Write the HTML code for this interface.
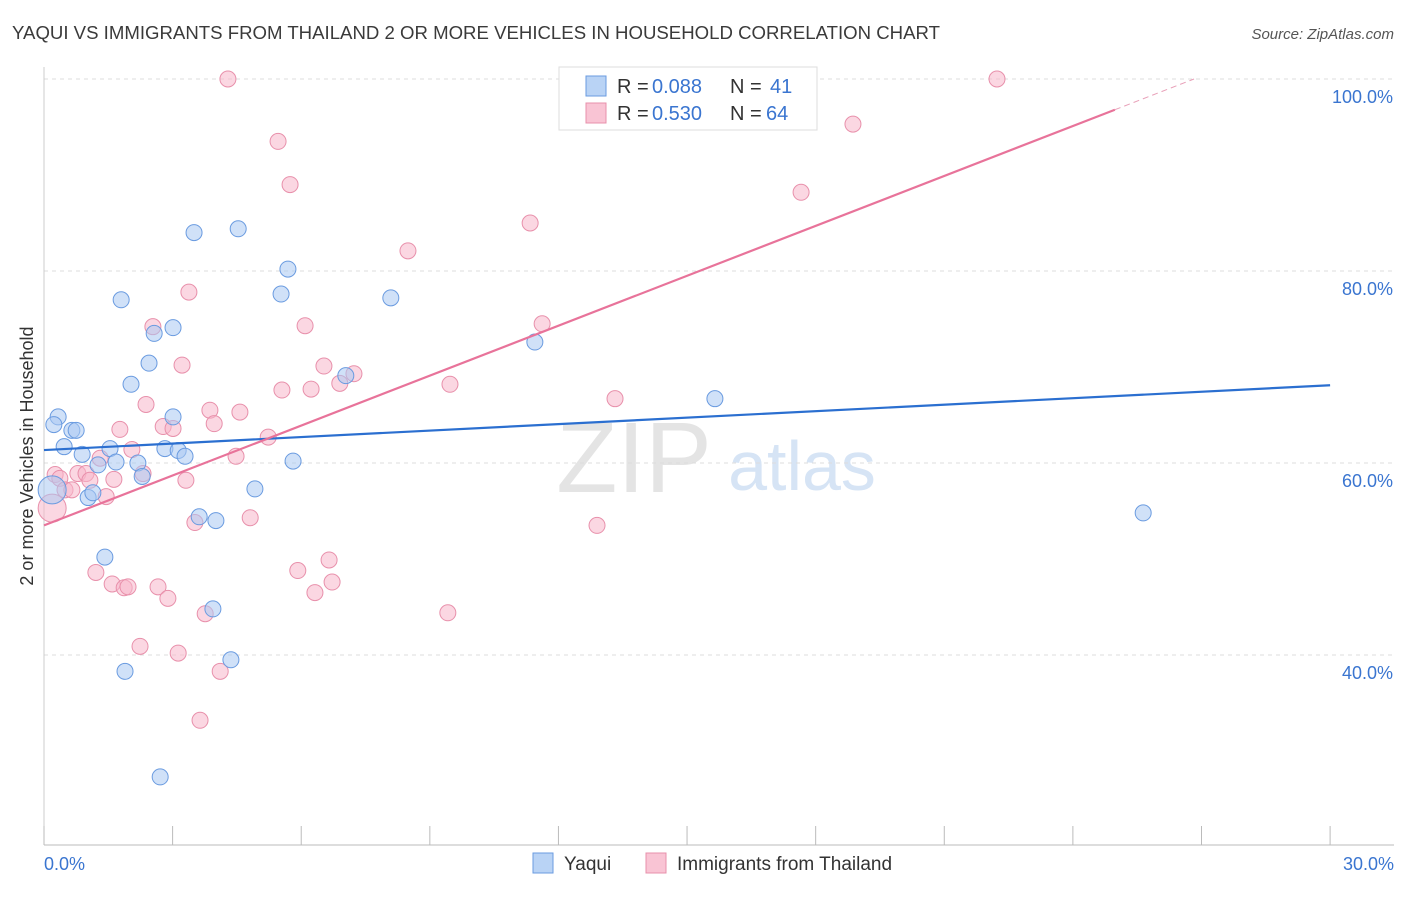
<!DOCTYPE html>
<html><head><meta charset="utf-8"><style>
body{margin:0;background:#fff;font-family:"Liberation Sans",sans-serif}
svg text{font-family:"Liberation Sans",sans-serif}
</style></head><body>
<svg id="chart" width="1406" height="892" xmlns="http://www.w3.org/2000/svg">
<text x="12" y="39" font-size="18" fill="#3a3a3a" textLength="928" lengthAdjust="spacingAndGlyphs">YAQUI VS IMMIGRANTS FROM THAILAND 2 OR MORE VEHICLES IN HOUSEHOLD CORRELATION CHART</text>
<text x="1394" y="39" font-size="15" fill="#555" font-style="italic" text-anchor="end">Source: ZipAtlas.com</text>
<g>
<text x="634" y="492" font-size="100" fill="#e4e4e4" text-anchor="middle" font-family="Liberation Serif">ZIP</text>
<text x="802" y="490" font-size="70" fill="#d6e4f5" text-anchor="middle">atlas</text>
</g>
<g id="grid"></g><g id="axes"></g><g id="marks"></g>
<text transform="translate(33,456) rotate(-90)" font-size="18" fill="#333" text-anchor="middle">2 or more Vehicles in Household</text>
<g>
<rect x="559" y="67" width="258" height="63" fill="#fff" stroke="#ddd"/>
<rect x="586" y="76" width="20" height="20" fill="#b9d3f5" stroke="#6a9be0"/>
<rect x="586" y="103" width="20" height="20" fill="#f9c4d4" stroke="#e890ab"/>
<text x="617" y="93" font-size="20" fill="#333">R =</text>
<text x="652" y="93" font-size="20" fill="#3a75d0">0.088</text>
<text x="730" y="93" font-size="20" fill="#333">N =</text>
<text x="770" y="93" font-size="20" fill="#3a75d0">41</text>
<text x="617" y="120" font-size="20" fill="#333">R =</text>
<text x="652" y="120" font-size="20" fill="#3a75d0">0.530</text>
<text x="730" y="120" font-size="20" fill="#333">N =</text>
<text x="766" y="120" font-size="20" fill="#3a75d0">64</text>
</g>
<g>
<rect x="533" y="853" width="20" height="20" fill="#b9d3f5" stroke="#6a9be0"/>
<text x="564" y="870" font-size="19" fill="#333">Yaqui</text>
<rect x="646" y="853" width="20" height="20" fill="#f9c4d4" stroke="#e890ab"/>
<text x="677" y="870" font-size="19" fill="#333">Immigrants from Thailand</text>
</g>
</svg>
<script>
const yTicks=[40,60,80,100];
const yTickLabels=["40.0%","60.0%","80.0%","100.0%"];
const blueX=[.19,.33,.23,.47,.65,.75,.89,1.03,1.14,1.26,1.42,1.54,1.68,1.80,1.89,2.03,2.19,2.29,2.45,2.57,2.71,2.82,3.01,3.01,3.13,3.29,3.50,3.62,3.94,4.01,4.36,4.53,4.92,5.53,5.69,5.81,7.04,8.09,11.45,15.65,25.64];
const blueY=[57.2,64.8,64.0,61.7,63.4,63.4,60.9,56.4,56.9,59.8,50.2,61.5,60.1,77.0,38.3,68.2,60.0,58.6,70.4,73.5,27.3,61.5,64.8,74.1,61.3,60.7,84.0,54.4,44.8,54.0,39.5,84.4,57.3,77.6,80.2,60.2,69.1,77.2,72.6,66.7,54.8];
const pinkX=[.19,.26,.37,.49,.65,.79,.98,1.07,1.21,1.31,1.45,1.59,1.63,1.77,1.87,1.96,2.05,2.24,2.31,2.38,2.54,2.66,2.78,2.89,3.01,3.13,3.22,3.31,3.38,3.52,3.64,3.76,3.87,3.97,4.11,4.29,4.48,4.57,4.81,5.23,5.46,5.55,5.74,5.92,6.09,6.23,6.32,6.53,6.65,6.72,6.90,7.23,8.49,9.42,9.47,11.34,11.62,12.90,13.32,17.66,18.87,22.23];
const pinkY=[55.3,58.8,58.4,57.2,57.2,58.9,58.9,58.2,48.6,60.5,56.5,47.4,58.3,63.5,47.0,47.1,61.4,40.9,58.9,66.1,74.2,47.1,63.8,45.9,63.6,40.2,70.2,58.2,77.8,53.8,33.2,44.3,65.5,64.1,38.3,100,60.7,65.3,54.3,62.7,93.5,67.6,89.0,48.8,74.3,67.7,46.5,70.1,49.9,47.6,68.3,69.3,82.1,44.4,68.2,85.0,74.5,53.5,66.7,88.2,95.3,100];
const blueTrend=[61.35,68.1];
const pinkTrend=[53.5,96.8];
const pinkTrendEnd=24.98;
const NS="http://www.w3.org/2000/svg";
const sx=v=>44+v*42.87, sy=v=>79+(100-v)*9.6;
function mk(t,a,p){const e=document.createElementNS(NS,t);for(const k in a)e.setAttribute(k,a[k]);p.appendChild(e);return e;}
const grid=document.getElementById('grid'),axes=document.getElementById('axes'),marks=document.getElementById('marks');
yTicks.forEach((v,i)=>{
 const l=mk('line',{x1:44,x2:1394,y1:sy(v),y2:sy(v),stroke:'#ddd','stroke-dasharray':'4,4'},grid);
 
 
 const t=mk('text',{x:1393,y:sy(v)+24,'font-size':18,fill:'#3a75d0','text-anchor':'end'},axes);
 t.textContent=yTickLabels[i];
 
 
});
const ax=mk('line',{x1:44,x2:1394,y1:845,y2:845,stroke:'#bbb'},axes);


const ay=mk('line',{x1:44,x2:44,y1:67,y2:845,stroke:'#ccc'},axes);


for(let i=0;i<=10;i++){const t=mk('line',{x1:sx(i*3),x2:sx(i*3),y1:826,y2:845,stroke:'#bbb'},axes);
 
 }
const x0=mk('text',{x:44,y:870,'font-size':18,fill:'#3a75d0'},axes);x0.textContent='0.0%';


const x1=mk('text',{x:1394,y:870,'font-size':18,fill:'#3a75d0','text-anchor':'end'},axes);x1.textContent='30.0%';


function pts(X,Y,fill,stroke,name){X.forEach((x,i)=>{const c=mk('circle',{cx:sx(x),cy:sy(Y[i]),r:i===0?14:8,fill:fill,'fill-opacity':0.55,stroke:stroke,'stroke-width':1},marks);
 
 });}
pts(pinkX,pinkY,'#f7b6ca','#e890ab','thailand-point');
pts(blueX,blueY,'#a9c9f2','#6a9be0','yaqui-point');
const bl=mk('line',{x1:sx(0),y1:sy(blueTrend[0]),x2:sx(30),y2:sy(blueTrend[1]),stroke:'#2b6fd0','stroke-width':2.2},marks);


const slope=(pinkTrend[1]-pinkTrend[0])/pinkTrendEnd;
const pl=mk('line',{x1:sx(0),y1:sy(pinkTrend[0]),x2:sx(pinkTrendEnd),y2:sy(pinkTrend[1]),stroke:'#e8739a','stroke-width':2.2},marks);


const xe=(100-pinkTrend[0])/slope;
const pd=mk('line',{x1:sx(pinkTrendEnd),y1:sy(pinkTrend[1]),x2:sx(xe),y2:sy(100),stroke:'#e8a0b8','stroke-width':1,'stroke-dasharray':'6,4'},marks);


</script>
</body></html>
